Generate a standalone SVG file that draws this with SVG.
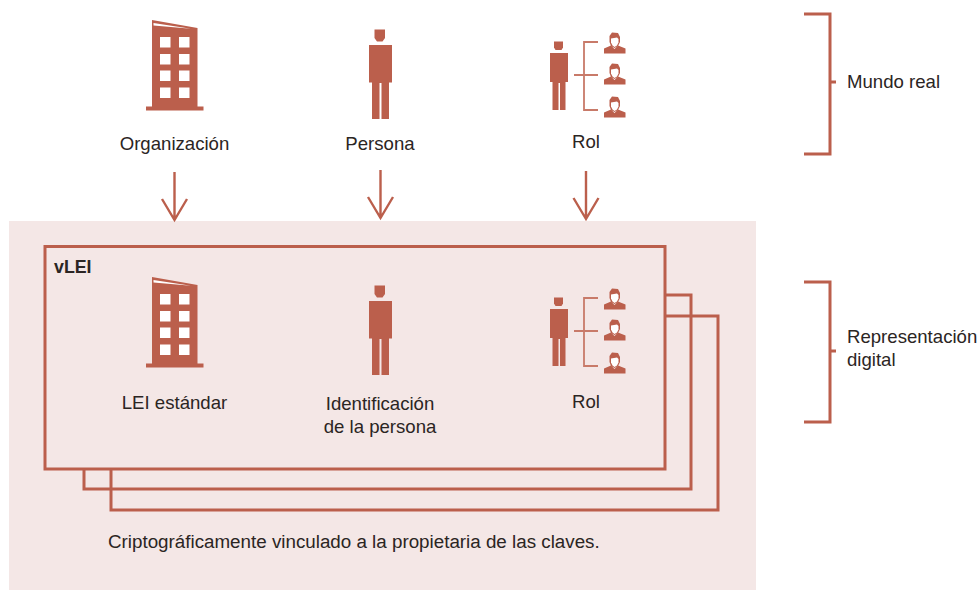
<svg xmlns="http://www.w3.org/2000/svg" xmlns:xlink="http://www.w3.org/1999/xlink" width="979" height="590" viewBox="0 0 979 590">
<style>
text{font-family:"Liberation Sans",Arial,sans-serif;font-size:18.600px;fill:#2b2523}
.m{text-anchor:middle}
.ln{fill:none;stroke:#bb5f4c;stroke-width:3}
.ar{fill:none;stroke:#bb5f4c;stroke-width:2.400}
.th{fill:none;stroke:#c87a69;stroke-width:1.800}
.ic{fill:#bb5f4c}
.wh{fill:#fff}
</style>
<defs>
<g id="building">
<path class="ic" d="M152 20 L197.500 28 V106.500 H203.500 V110.500 H146 V106.500 H152 Z"/>
<path d="M153.500 23 L191 28.800 L153.500 25.500 Z" fill="#fff"/>
<path class="wh" d="M160 37h10.500v10.500H160zM179 37h10.500v10.500H179zM160 54h10.500v10.500H160zM179 54h10.500v10.500H179zM160 70.500h10.500v10.500H160zM179 70.500h10.500v10.500H179zM160 87.500h10.500v10.500H160zM179 87.500h10.500v10.500H179z"/>
</g>
<g id="person">
<path class="ic" d="M374.500 29.500H385V38L382.500 41.500H377L374.500 38Z"/>
<path class="ic" d="M369 45H392V82.500H389V119H381.500V83H379.500V119H372V82.500H369Z"/>
</g>
<g id="face">
<path class="ic" d="M604 53.500V48.500L611 45.500L614.500 49L618 45.500L625.500 48.500V53.500Z"/>
<path class="ic" d="M609.500 36L612 32.500L618 33L620 37V42L618 46L614.500 48L611 46L609.500 42Z"/>
<path fill="#fff" d="M611 38.500L617 37.500L618.500 39V42.500L617 45.500L614.500 47L612.500 45.500L611 42.500Z"/>
</g>
<g id="role">
<path class="ic" d="M554 41.500H563V47.500L561.500 50H555.500L554 47.500Z"/>
<path class="ic" d="M550 53H568V82H565.500V110H560V83H558.500V110H552.500V82H550Z"/>
<path class="th" d="M598 42H584V110H598M574 75H598"/>
<use xlink:href="#face"/>
<use xlink:href="#face" y="31"/>
<use xlink:href="#face" y="64"/>
</g>
</defs>
<rect id="digital-panel" x="9" y="221" width="747" height="369" fill="#f4e7e6"/>
<g id="connectors">
<path class="ar" d="M174.500 172V220M162 199L174.500 220L187 199"/>
<path class="ar" d="M380.500 170V218M368 197L380.500 218L393 197"/>
<path class="ar" d="M586 171V219M573.500 198L586 219L598.500 198"/>
</g>
<g id="organizacion"><use xlink:href="#building"/><text class="m" x="174.500" y="150">Organización</text></g>
<g id="persona"><use xlink:href="#person"/><text class="m" x="380" y="150">Persona</text></g>
<g id="rol"><use xlink:href="#role"/><text class="m" x="586" y="148">Rol</text></g>
<g id="mundo-real"><path class="ln" d="M804 14H830V154H804M830 82H836"/><text x="847" y="88">Mundo real</text></g>
<g id="representacion-digital"><path class="ln" d="M804 282H830V422H804M830 351H836"/><text x="847" y="343">Representación</text><text x="847" y="366">digital</text></g>
<g id="stack">
<path class="ln" d="M665 316H718V510H111V469"/>
<path class="ln" d="M665 295H691V489H84V469"/>
<rect class="ln" x="45" y="246.500" width="620" height="222.500"/>
</g>
<g id="vlei"><text x="54" y="273" style="font-weight:700;font-size:17.800px">vLEI</text></g>
<g id="lei-estandar"><use xlink:href="#building" y="257"/><text class="m" x="174.500" y="409">LEI estándar</text></g>
<g id="identificacion"><use xlink:href="#person" y="256"/><text class="m" x="380" y="410">Identificación</text><text class="m" x="380" y="433">de la persona</text></g>
<g id="rol-digital"><use xlink:href="#role" y="256"/><text class="m" x="586" y="408">Rol</text></g>
<g id="nota"><text x="108" y="548" style="font-size:18.800px">Criptográficamente vinculado a la propietaria de las claves.</text></g>
</svg>
